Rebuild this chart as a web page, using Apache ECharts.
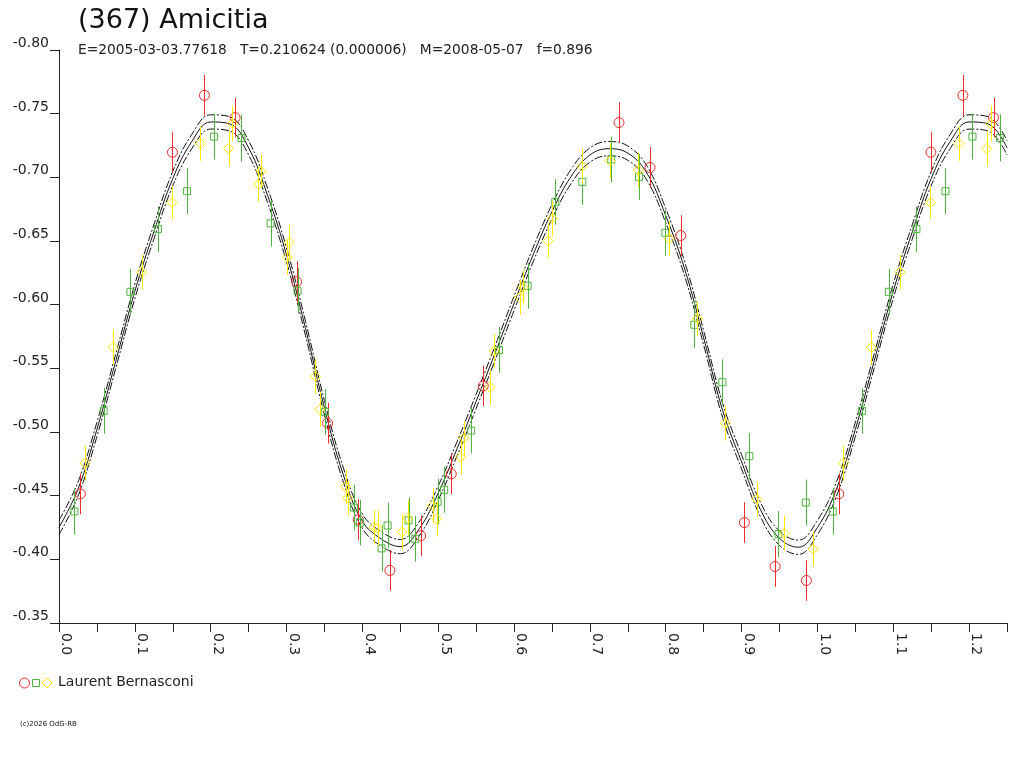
<!DOCTYPE html>
<html>
<head>
<meta charset="utf-8">
<title>(367) Amicitia</title>
<script src="https://cdn.jsdelivr.net/npm/echarts@6/dist/echarts.min.js"></script>
<style>
  html, body { margin: 0; padding: 0; background: #fff; }
  #chart { width: 1024px; height: 768px; }
</style>
</head>
<body>
<div id="chart"></div>
<script>
// Each point: [phase, reduced magnitude, error]
const redPoints = [
  [0.0282, -0.4514, 0.016], [0.1496, -0.7197, 0.016], [0.1918, -0.7644, 0.016],
  [0.2322, -0.7469, 0.0155], [0.3132, -0.6180, 0.016], [0.3541, -0.5069, 0.016],
  [0.3945, -0.4311, 0.016], [0.4363, -0.3913, 0.016], [0.4768, -0.4185, 0.016],
  [0.5172, -0.4671, 0.016], [0.5594, -0.5362, 0.016], [0.7384, -0.7430, 0.016],
  [0.7793, -0.7077, 0.016], [0.8198, -0.6543, 0.016], [0.9037, -0.4289, 0.016],
  [0.9442, -0.3944, 0.016], [0.9855, -0.3834, 0.016]
];

const greenPoints = [
  [0.0203, -0.4376, 0.018], [0.0590, -0.5166, 0.018], [0.0942, -0.6101, 0.018],
  [0.1306, -0.6593, 0.018], [0.1689, -0.6891, 0.018], [0.2045, -0.7320, 0.018],
  [0.2406, -0.7309, 0.0185], [0.2789, -0.6638, 0.018], [0.3145, -0.6109, 0.018],
  [0.3505, -0.5158, 0.018], [0.3888, -0.4407, 0.018], [0.3967, -0.4289, 0.018],
  [0.4253, -0.4086, 0.018], [0.4333, -0.4266, 0.018], [0.4609, -0.4305, 0.018],
  [0.4697, -0.4162, 0.018], [0.4992, -0.4452, 0.018], [0.5079, -0.4546, 0.018],
  [0.5435, -0.5011, 0.018], [0.5801, -0.5644, 0.018], [0.6179, -0.6148, 0.018],
  [0.6544, -0.6807, 0.018], [0.6900, -0.6964, 0.018], [0.7282, -0.7140, 0.018],
  [0.7648, -0.7003, 0.018], [0.7995, -0.6564, 0.018], [0.8377, -0.5842, 0.018],
  [0.8747, -0.5391, 0.018], [0.9103, -0.4810, 0.018], [0.9486, -0.4198, 0.018],
  [0.9847, -0.4446, 0.018]
];

const yellowPoints = [
  [0.0343, -0.4755, 0.0137], [0.0712, -0.5665, 0.0137], [0.1091, -0.6256, 0.0137],
  [0.1491, -0.6802, 0.013], [0.1865, -0.7265, 0.0135], [0.2235, -0.7226, 0.014],
  [0.2287, -0.7422, 0.014], [0.2630, -0.6946, 0.0137], [0.2661, -0.7048, 0.013],
  [0.3008, -0.6371, 0.0137], [0.3035, -0.6489, 0.0137], [0.3382, -0.5435, 0.0137],
  [0.3439, -0.5179, 0.0137], [0.3778, -0.4572, 0.0137], [0.3805, -0.4481, 0.0137],
  [0.4156, -0.4253, 0.0137], [0.4200, -0.4245, 0.0137], [0.4525, -0.4214, 0.0137],
  [0.4596, -0.4324, 0.0137], [0.4926, -0.4423, 0.0137], [0.4979, -0.4318, 0.0137],
  [0.5295, -0.4802, 0.0137], [0.5339, -0.4951, 0.0137], [0.5682, -0.5351, 0.0137],
  [0.5739, -0.5636, 0.0137], [0.6074, -0.6057, 0.0137], [0.6121, -0.6136, 0.0137],
  [0.6451, -0.6501, 0.0137], [0.6504, -0.6677, 0.0137], [0.6900, -0.7087, 0.0137],
  [0.7265, -0.7129, 0.0137], [0.7639, -0.7056, 0.0137], [0.8044, -0.6520, 0.0137],
  [0.8417, -0.5889, 0.0137], [0.8786, -0.5069, 0.0137], [0.9200, -0.4473, 0.0137],
  [0.9565, -0.4206, 0.0137], [0.9943, -0.4081, 0.0137]
];

// fitted lightcurve, one rotation (phase 0 .. 1)
const fitPhase = [
  0, 0.025, 0.05, 0.075, 0.1, 0.125, 0.15, 0.175, 0.2, 0.225,
  0.25, 0.275, 0.3, 0.325, 0.35, 0.375, 0.4, 0.425, 0.45, 0.475,
  0.5, 0.525, 0.55, 0.575, 0.6, 0.625, 0.65, 0.675, 0.7, 0.725,
  0.75, 0.775, 0.8, 0.825, 0.85, 0.875, 0.9, 0.925, 0.95, 0.975
];
const fitMag = [
  -0.425, -0.455, -0.502, -0.556, -0.6105, -0.657, -0.699, -0.728, -0.7435, -0.742,
  -0.7232, -0.6858, -0.6391, -0.5814, -0.519, -0.4662, -0.430, -0.416, -0.410, -0.424,
  -0.452, -0.487, -0.524, -0.562, -0.601, -0.639, -0.673, -0.7005, -0.7175, -0.7225,
  -0.719, -0.7035, -0.670, -0.628, -0.574, -0.517, -0.4766, -0.439, -0.4165, -0.4095
];
const fitBand = 0.0056;   // half width of the dashed envelope

const phaseMax = 1.25;
const magMin = -0.80;
const magMax = -0.35;

const titleText = '(367) Amicitia';
const subtitleText = 'E=2005-03-03.77618   T=0.210624 (0.000006)   M=2008-05-07   f=0.896';
const observerText = 'Laurent Bernasconi';
const copyrightText = '(c)2026 OdG-RB';

const RED = '#ee2a2a';
const GREEN = '#4fb43f';
const YELLOW = '#ffea00';
const FONT = '"DejaVu Sans", Arial, sans-serif';

// repeat the start of the rotation after phase 1
function wrapPoints(points) {
  const extra = points.filter(p => p[0] < phaseMax - 1).map(p => [p[0] + 1, p[1], p[2]]);
  return points.concat(extra);
}

function fitLine(offset) {
  const base = fitPhase.map((p, i) => [p, fitMag[i] + offset]);
  const extra = base.filter(p => p[0] <= phaseMax - 1 + 1e-9).map(p => [p[0] + 1, p[1]]);
  return base.concat(extra);
}

function markerShape(shape, cx, cy, color) {
  const style = { fill: 'none', stroke: color, lineWidth: 1 };
  if (shape === 'circle') {
    return { type: 'circle', shape: { cx: cx, cy: cy, r: 5 }, style: style };
  }
  if (shape === 'square') {
    return { type: 'rect', shape: { x: cx - 3.5, y: cy - 3.5, width: 7, height: 7 }, style: style };
  }
  return {
    type: 'polygon',
    shape: { points: [[cx, cy - 5], [cx + 5, cy], [cx, cy + 5], [cx - 5, cy]] },
    style: style
  };
}

function markerSeries(name, points, color, shape) {
  return {
    type: 'custom',
    name: name,
    data: wrapPoints(points),
    encode: { x: 0, y: 1 },
    clip: true,
    z: 3,
    renderItem: function (params, api) {
      const x = api.value(0);
      const y = api.value(1);
      const e = api.value(2);
      const c = api.coord([x, y]);
      const top = api.coord([x, y - e]);
      const bot = api.coord([x, y + e]);
      const lx = Math.round(c[0]) + 0.5;
      return {
        type: 'group',
        children: [
          {
            type: 'line',
            shape: { x1: lx, y1: top[1], x2: lx, y2: bot[1] },
            style: { stroke: color, lineWidth: 1 }
          },
          markerShape(shape, c[0], c[1], color)
        ]
      };
    }
  };
}

const chart = echarts.init(document.getElementById('chart'));

const option = {
  backgroundColor: '#fff',
  animation: false,
  grid: { left: 59, right: 17, top: 50, bottom: 145 },
  xAxis: {
    type: 'value',
    min: 0,
    max: phaseMax,
    interval: 0.05,
    axisLine: { lineStyle: { color: '#222', width: 1 } },
    axisTick: { length: 9, lineStyle: { color: '#222' } },
    splitLine: { show: false },
    axisLabel: {
      rotate: -90,
      margin: 10,
      align: 'left',
      verticalAlign: 'bottom',
      fontFamily: FONT,
      fontSize: 14,
      lineHeight: 14,
      color: '#222',
      formatter: function (v) {
        const t = v * 10;
        return Math.abs(t - Math.round(t)) < 1e-6 ? v.toFixed(1) : '';
      }
    }
  },
  yAxis: {
    type: 'value',
    min: magMin,
    max: magMax,
    interval: 0.05,
    inverse: true,
    axisLine: { show: true, lineStyle: { color: '#222', width: 1 } },
    axisTick: { show: true, length: 9, lineStyle: { color: '#222' } },
    splitLine: { show: false },
    axisLabel: {
      margin: 10,
      verticalAlign: 'bottom',
      fontFamily: FONT,
      fontSize: 14,
      lineHeight: 13,
      color: '#222',
      formatter: function (v) { return v.toFixed(2); }
    }
  },
  series: [
    {
      type: 'line',
      data: fitLine(-fitBand),
      showSymbol: false,
      smooth: 0.4,
      silent: true,
      z: 2,
      lineStyle: { color: '#111', width: 1, type: [8, 2, 2, 2] }
    },
    {
      type: 'line',
      data: fitLine(0),
      showSymbol: false,
      smooth: 0.4,
      silent: true,
      z: 2,
      lineStyle: { color: '#111', width: 1 }
    },
    {
      type: 'line',
      data: fitLine(fitBand),
      showSymbol: false,
      smooth: 0.4,
      silent: true,
      z: 2,
      lineStyle: { color: '#111', width: 1, type: [8, 2, 2, 2] }
    },
    markerSeries('red', redPoints, RED, 'circle'),
    markerSeries('green', greenPoints, GREEN, 'square'),
    markerSeries('yellow', yellowPoints, YELLOW, 'diamond')
  ],
  graphic: [
    {
      type: 'text', left: 78, top: 7,
      style: { text: titleText, font: '27px ' + FONT, fill: '#111' }
    },
    {
      type: 'text', left: 78, top: 43,
      style: { text: subtitleText, font: '13.8px ' + FONT, fill: '#222' }
    },
    {
      type: 'circle', shape: { cx: 24.5, cy: 683, r: 5 },
      style: { fill: 'none', stroke: RED, lineWidth: 1 }
    },
    {
      type: 'rect', shape: { x: 32.5, y: 679.5, width: 7, height: 7 },
      style: { fill: 'none', stroke: GREEN, lineWidth: 1 }
    },
    {
      type: 'polygon', shape: { points: [[47, 678], [52, 683], [47, 688], [42, 683]] },
      style: { fill: 'none', stroke: YELLOW, lineWidth: 1 }
    },
    {
      type: 'text', left: 58, top: 675,
      style: { text: observerText, font: '14px ' + FONT, fill: '#222' }
    },
    {
      type: 'text', left: 20, top: 721,
      style: { text: copyrightText, font: '7px ' + FONT, fill: '#111' }
    }
  ]
};

chart.setOption(option);
window.addEventListener('resize', function () { chart.resize(); });
</script>
</body>
</html>
